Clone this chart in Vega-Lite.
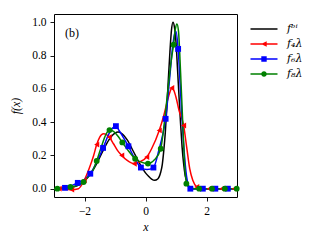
{
  "$schema": "https://vega.github.io/schema/vega-lite/v6.json",
  "width": 183,
  "height": 183,
  "autosize": {"type": "none"},
  "padding": {"left": 54, "top": 14, "right": 81, "bottom": 47},
  "background": "white",
  "config": {
    "view": {"stroke": "black", "strokeWidth": 1},
    "font": "Liberation Serif",
    "axis": {
      "domain": false, "grid": false, "labelOverlap": false,
      "tickColor": "black", "tickSize": 4, "tickWidth": 0.9,
      "labelColor": "black", "labelFont": "Liberation Serif", "labelFontSize": 11.5, "labelPadding": 4,
      "titleFont": "Liberation Serif", "titleFontStyle": "italic", "titleFontWeight": "normal",
      "titleFontSize": 12, "titleColor": "black"
    }
  },
  "datasets": {
    "lines": [
      {"s":"bi","x":-3.0,"y":0.0},{"s":"bi","x":-2.8,"y":0.001},{"s":"bi","x":-2.6,"y":0.003},{"s":"bi","x":-2.4,"y":0.008},
      {"s":"bi","x":-2.2,"y":0.021},{"s":"bi","x":-2.0,"y":0.046},{"s":"bi","x":-1.8,"y":0.089},{"s":"bi","x":-1.6,"y":0.151},
      {"s":"bi","x":-1.4,"y":0.225},{"s":"bi","x":-1.2,"y":0.293},{"s":"bi","x":-1.0,"y":0.334},{"s":"bi","x":-0.9,"y":0.34},
      {"s":"bi","x":-0.8,"y":0.334},{"s":"bi","x":-0.6,"y":0.293},{"s":"bi","x":-0.4,"y":0.225},{"s":"bi","x":-0.2,"y":0.153},
      {"s":"bi","x":0.0,"y":0.095},{"s":"bi","x":0.1,"y":0.075},{"s":"bi","x":0.2,"y":0.058},{"s":"bi","x":0.3,"y":0.05},
      {"s":"bi","x":0.4,"y":0.058},{"s":"bi","x":0.5,"y":0.1},{"s":"bi","x":0.55,"y":0.145},{"s":"bi","x":0.6,"y":0.23},
      {"s":"bi","x":0.65,"y":0.34},{"s":"bi","x":0.7,"y":0.49},{"s":"bi","x":0.75,"y":0.66},{"s":"bi","x":0.8,"y":0.82},
      {"s":"bi","x":0.85,"y":0.95},{"s":"bi","x":0.9,"y":1.0},{"s":"bi","x":0.95,"y":0.97},{"s":"bi","x":1.0,"y":0.88},
      {"s":"bi","x":1.05,"y":0.72},{"s":"bi","x":1.1,"y":0.55},{"s":"bi","x":1.15,"y":0.39},{"s":"bi","x":1.2,"y":0.25},
      {"s":"bi","x":1.25,"y":0.15},{"s":"bi","x":1.3,"y":0.08},{"s":"bi","x":1.4,"y":0.02},{"s":"bi","x":1.5,"y":0.003},
      {"s":"bi","x":1.6,"y":0.0},{"s":"bi","x":2.0,"y":0.0},{"s":"bi","x":3.0,"y":0.0},

      {"s":"f4","x":-3.0,"y":0.0},{"s":"f4","x":-2.83,"y":0.0},{"s":"f4","x":-2.6,"y":-0.003},{"s":"f4","x":-2.42,"y":-0.006},
      {"s":"f4","x":-2.2,"y":0.0},{"s":"f4","x":-2.01,"y":0.05},{"s":"f4","x":-1.85,"y":0.12},{"s":"f4","x":-1.7,"y":0.2},
      {"s":"f4","x":-1.6,"y":0.265},{"s":"f4","x":-1.5,"y":0.31},{"s":"f4","x":-1.38,"y":0.33},{"s":"f4","x":-1.28,"y":0.325},
      {"s":"f4","x":-1.19,"y":0.31},{"s":"f4","x":-1.05,"y":0.27},{"s":"f4","x":-0.92,"y":0.23},{"s":"f4","x":-0.78,"y":0.2},
      {"s":"f4","x":-0.6,"y":0.17},{"s":"f4","x":-0.37,"y":0.15},{"s":"f4","x":-0.2,"y":0.16},{"s":"f4","x":0.04,"y":0.19},
      {"s":"f4","x":0.2,"y":0.24},{"s":"f4","x":0.45,"y":0.35},{"s":"f4","x":0.6,"y":0.44},{"s":"f4","x":0.72,"y":0.53},
      {"s":"f4","x":0.8,"y":0.58},{"s":"f4","x":0.86,"y":0.605},{"s":"f4","x":0.93,"y":0.59},{"s":"f4","x":1.0,"y":0.55},
      {"s":"f4","x":1.1,"y":0.47},{"s":"f4","x":1.25,"y":0.38},{"s":"f4","x":1.35,"y":0.25},{"s":"f4","x":1.45,"y":0.12},
      {"s":"f4","x":1.55,"y":0.05},{"s":"f4","x":1.68,"y":0.01},{"s":"f4","x":1.8,"y":0.0},{"s":"f4","x":2.09,"y":0.0},
      {"s":"f4","x":3.0,"y":0.0},

      {"s":"f6","x":-3.0,"y":0.0},{"s":"f6","x":-2.64,"y":0.005},{"s":"f6","x":-2.4,"y":0.02},{"s":"f6","x":-2.22,"y":0.035},
      {"s":"f6","x":-2.0,"y":0.055},{"s":"f6","x":-1.81,"y":0.09},{"s":"f6","x":-1.6,"y":0.16},{"s":"f6","x":-1.39,"y":0.245},
      {"s":"f6","x":-1.2,"y":0.33},{"s":"f6","x":-1.08,"y":0.365},{"s":"f6","x":-0.97,"y":0.376},{"s":"f6","x":-0.85,"y":0.345},
      {"s":"f6","x":-0.7,"y":0.3},{"s":"f6","x":-0.56,"y":0.255},{"s":"f6","x":-0.35,"y":0.18},{"s":"f6","x":-0.15,"y":0.127},
      {"s":"f6","x":0.05,"y":0.115},{"s":"f6","x":0.26,"y":0.127},{"s":"f6","x":0.45,"y":0.24},{"s":"f6","x":0.56,"y":0.32},
      {"s":"f6","x":0.66,"y":0.42},{"s":"f6","x":0.8,"y":0.68},{"s":"f6","x":0.9,"y":0.87},{"s":"f6","x":0.97,"y":0.94},
      {"s":"f6","x":1.0,"y":0.945},{"s":"f6","x":1.07,"y":0.84},{"s":"f6","x":1.15,"y":0.58},{"s":"f6","x":1.25,"y":0.27},
      {"s":"f6","x":1.35,"y":0.07},{"s":"f6","x":1.47,"y":0.0},{"s":"f6","x":3.0,"y":0.0},

      {"s":"f8","x":-3.0,"y":0.0},{"s":"f8","x":-2.89,"y":0.0},{"s":"f8","x":-2.65,"y":0.004},{"s":"f8","x":-2.46,"y":0.01},
      {"s":"f8","x":-2.2,"y":0.022},{"s":"f8","x":-2.03,"y":0.04},{"s":"f8","x":-1.85,"y":0.08},{"s":"f8","x":-1.7,"y":0.12},
      {"s":"f8","x":-1.6,"y":0.167},{"s":"f8","x":-1.45,"y":0.25},{"s":"f8","x":-1.3,"y":0.325},{"s":"f8","x":-1.18,"y":0.352},
      {"s":"f8","x":-1.05,"y":0.345},{"s":"f8","x":-0.9,"y":0.315},{"s":"f8","x":-0.76,"y":0.278},{"s":"f8","x":-0.55,"y":0.225},
      {"s":"f8","x":-0.34,"y":0.18},{"s":"f8","x":-0.12,"y":0.158},{"s":"f8","x":0.08,"y":0.151},{"s":"f8","x":0.3,"y":0.175},
      {"s":"f8","x":0.5,"y":0.24},{"s":"f8","x":0.62,"y":0.4},{"s":"f8","x":0.75,"y":0.62},{"s":"f8","x":0.85,"y":0.78},
      {"s":"f8","x":0.92,"y":0.865},{"s":"f8","x":0.98,"y":0.96},{"s":"f8","x":1.03,"y":0.99},{"s":"f8","x":1.08,"y":0.95},
      {"s":"f8","x":1.15,"y":0.7},{"s":"f8","x":1.22,"y":0.4},{"s":"f8","x":1.3,"y":0.1},{"s":"f8","x":1.36,"y":0.03},
      {"s":"f8","x":1.45,"y":0.005},{"s":"f8","x":1.6,"y":0.0},{"s":"f8","x":3.0,"y":0.0}
    ],
    "markers": [
      {"s":"f4","x":-2.83,"y":0.0},{"s":"f4","x":-2.42,"y":-0.006},{"s":"f4","x":-2.01,"y":0.05},{"s":"f4","x":-1.6,"y":0.265},
      {"s":"f4","x":-1.19,"y":0.31},{"s":"f4","x":-0.78,"y":0.2},{"s":"f4","x":-0.37,"y":0.15},{"s":"f4","x":0.04,"y":0.19},
      {"s":"f4","x":0.45,"y":0.35},{"s":"f4","x":0.86,"y":0.605},{"s":"f4","x":1.25,"y":0.38},{"s":"f4","x":1.68,"y":0.01},
      {"s":"f4","x":2.09,"y":0.0},{"s":"f4","x":2.5,"y":0.0},{"s":"f4","x":2.91,"y":0.0},

      {"s":"f6","x":-2.64,"y":0.005},{"s":"f6","x":-2.22,"y":0.035},{"s":"f6","x":-1.81,"y":0.09},{"s":"f6","x":-1.39,"y":0.245},
      {"s":"f6","x":-0.97,"y":0.376},{"s":"f6","x":-0.56,"y":0.255},{"s":"f6","x":-0.15,"y":0.127},{"s":"f6","x":0.26,"y":0.127},
      {"s":"f6","x":0.66,"y":0.42},{"s":"f6","x":1.07,"y":0.84},{"s":"f6","x":1.47,"y":0.0},{"s":"f6","x":1.88,"y":0.0},
      {"s":"f6","x":2.29,"y":0.0},{"s":"f6","x":2.7,"y":0.0},

      {"s":"f8","x":-2.89,"y":0.0},{"s":"f8","x":-2.46,"y":0.01},{"s":"f8","x":-2.03,"y":0.04},{"s":"f8","x":-1.6,"y":0.167},
      {"s":"f8","x":-1.18,"y":0.352},{"s":"f8","x":-0.76,"y":0.278},{"s":"f8","x":-0.34,"y":0.18},{"s":"f8","x":0.08,"y":0.151},
      {"s":"f8","x":0.5,"y":0.24},{"s":"f8","x":0.92,"y":0.865},{"s":"f8","x":1.34,"y":0.03},{"s":"f8","x":1.76,"y":0.0},
      {"s":"f8","x":2.18,"y":0.0},{"s":"f8","x":2.6,"y":0.0},{"s":"f8","x":2.99,"y":0.0}
    ],
    "note": [{"x": -2.41, "y": 0.937, "t": "(b)"}]
  },
  "layer": [
    {
      "data": {"name": "lines"},
      "mark": {"type": "line", "interpolate": "monotone", "strokeWidth": 1.5},
      "encoding": {
        "x": {"field": "x", "type": "quantitative", "scale": {"domain": [-3, 3], "nice": false, "zero": false},
              "axis": {"values": [-2, 0, 2], "format": "d", "title": "x", "titlePadding": 5, "labelOverlap": false}},
        "y": {"field": "y", "type": "quantitative", "scale": {"domain": [-0.05, 1.05], "nice": false, "zero": false},
              "axis": {"values": [0, 0.2, 0.4, 0.6, 0.8, 1.0], "format": ".1f", "title": "f(x)", "titlePadding": 9,
                       "labelOverlap": false, "labelBound": false, "labelFlush": false, "tickCount": 6}},
        "color": {
          "field": "s", "type": "nominal",
          "scale": {"domain": ["bi", "f4", "f6", "f8"], "range": ["#000000", "#ff0000", "#0000ff", "#008000"]},
          "legend": {
            "orient": "none", "legendX": 200, "legendY": 5, "title": null, "padding": 0,
            "symbolSize": 400, "rowPadding": 0, "labelOffset": 13,
            "labelFont": "DejaVu Serif", "labelFontSize": 11, "labelFontStyle": "italic", "labelColor": "black",
            "labelExpr": "datum.value === 'bi' ? 'fᵇⁱ' : datum.value === 'f4' ? 'f₄λ' : datum.value === 'f6' ? 'f₆λ' : 'f₈λ'",
            "encode": {
              "symbols": {
                "update": {
                  "shape": {"signal": "datum.value === 'bi' ? 'M-1.35,-0.075H1.35V0.075H-1.35Z' : datum.value === 'f4' ? 'M-1.35,-0.075H1.35V0.075H-1.35Z M-0.3,0L0.27,-0.28L0.27,0.28Z' : datum.value === 'f6' ? 'M-1.35,-0.075H1.35V0.075H-1.35Z M-0.27,-0.27H0.27V0.27H-0.27Z' : 'M-1.35,-0.075H1.35V0.075H-1.35Z M0.28,0A0.28,0.28 0 1,1 -0.28,0A0.28,0.28 0 1,1 0.28,0Z'"},
                  "size": {"value": 400},
                  "fill": {"scale": "color", "field": "value"},
                  "stroke": {"value": "transparent"},
                  "strokeWidth": {"value": 0},
                  "opacity": {"value": 1}
                }
              }
            }
          }
        }
      }
    },
    {
      "data": {"name": "markers"},
      "mark": {"type": "point", "filled": true, "size": 34, "opacity": 1, "strokeWidth": 0},
      "encoding": {
        "x": {"field": "x", "type": "quantitative"},
        "y": {"field": "y", "type": "quantitative"},
        "color": {"field": "s", "type": "nominal", "legend": null},
        "shape": {"field": "s", "type": "nominal",
                  "scale": {"domain": ["f4", "f6", "f8"], "range": ["triangle-left", "square", "circle"]},
                  "legend": null}
      }
    },
    {
      "data": {"name": "note"},
      "mark": {"type": "text", "font": "Liberation Serif", "fontSize": 12, "fill": "#000000"},
      "encoding": {
        "x": {"field": "x", "type": "quantitative"},
        "y": {"field": "y", "type": "quantitative"},
        "text": {"field": "t", "type": "nominal"}
      }
    }
  ]
}
